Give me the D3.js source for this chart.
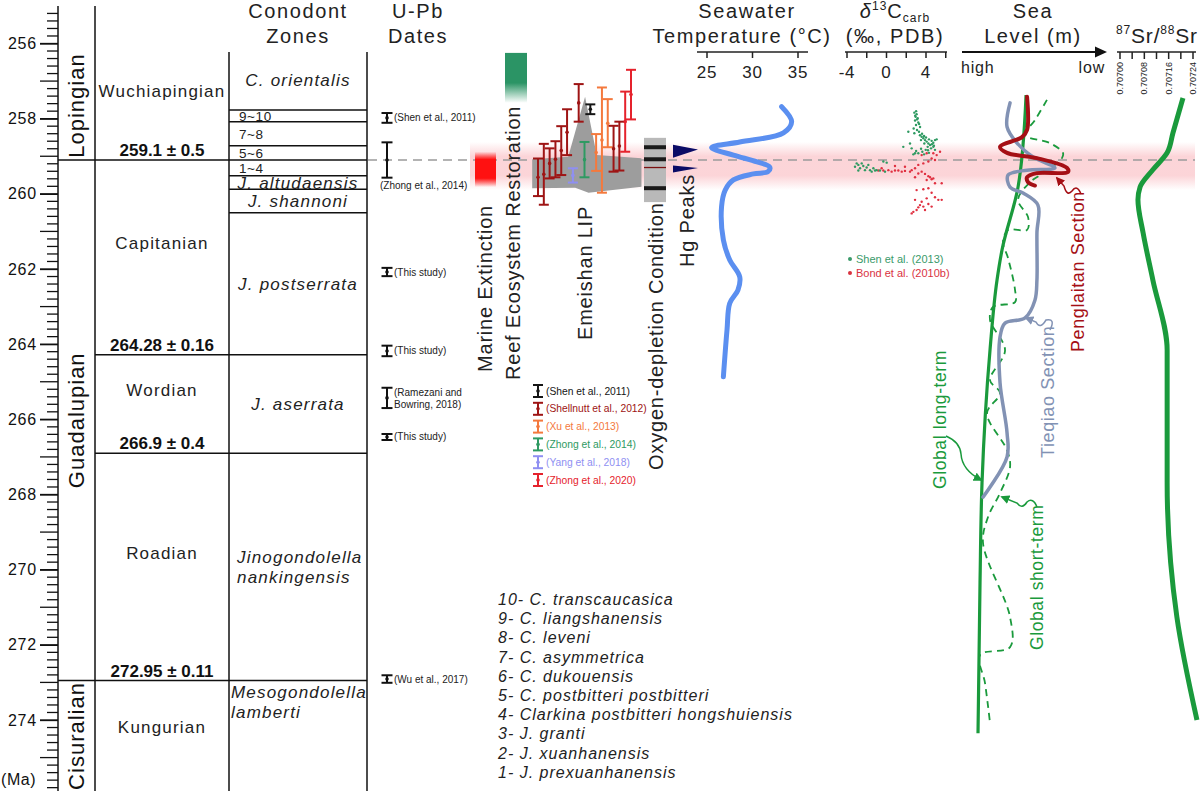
<!DOCTYPE html>
<html>
<head>
<meta charset="utf-8">
<script src="https://cdn.jsdelivr.net/npm/d3@7"></script>
<style>
body { margin: 0; background: #fff; }
svg { display: block; font-family: "Liberation Sans", Arial, sans-serif; }
</style>
</head>
<body>
<div id="chart"></div>
<script>
const width = 1200;
const height = 791;

// chronostratigraphy (Ma)
const seriesNames = ["Lopingian", "Guadalupian", "Cisuralian"];
const seriesBases = [259.1, 272.95, 276.2];
const stageNames = ["Wuchiapingian", "Capitanian", "Wordian", "Roadian", "Kungurian"];
const stageBases = [259.1, 264.28, 266.9, 272.95, 276.2];
const stageBaseLabels = ["259.1 ± 0.5", "264.28 ± 0.16", "266.9 ± 0.4", "272.95 ± 0.11", ""];
const zoneNames = ["C. orientalis", "9~10", "7~8", "5~6", "1~4", "J. altudaensis", "J. shannoni",
    "J. postserrata", "J. aserrata", "Jinogondolella|nankingensis", "Mesogondolella|lamberti"];
const zoneBases = [257.77, 258.08, 258.72, 259.1, 259.52, 259.88, 260.5, 264.28, 266.9, 272.95, 276.2];
const zoneLegend = ["10- C. transcaucasica", "9- C. liangshanensis", "8- C. leveni", "7- C. asymmetrica",
    "6- C. dukouensis", "5- C. postbitteri postbitteri", "4- Clarkina postbitteri hongshuiensis",
    "3- J. granti", "2- J. xuanhanensis", "1- J. prexuanhanensis"];

// U-Pb dates
const upbAges = [257.98, 259.1, 262.08, 264.18, 265.43, 266.47, 272.91];
const upbErrs = [0.13, 0.47, 0.11, 0.14, 0.27, 0.08, 0.1];
const upbRefs = ["(Shen et al., 2011)", "(Zhong et al., 2014)", "(This study)", "(This study)",
    "(Ramezani and|Bowring, 2018)", "(This study)", "(Wu et al., 2017)"];

// events
const extinction = [258.88, 259.82];
const reefRestoration = [256.25, 257.58];
const crisisBand = [258.62, 259.9];
const anoxiaRange = [258.51, 260.22];
const anoxiaBands = [258.76, 259.08, 259.30, 259.85];
const anoxiaBandKind = ["thick", "thick", "thin", "thick"];
const hgPeakAges = [258.87, 259.34];
const hgPeakStrength = [1, 0.55];

// Emeishan LIP ages
const lipSources = ["Shen et al., 2011", "Shellnutt et al., 2012", "Xu et al., 2013",
    "Zhong et al., 2014", "Yang et al., 2018", "Zhong et al., 2020"];
const lipColors = ["#151515", "#9e1414", "#f4793d", "#2e9a62", "#8f8ff2", "#e5222c"];
const lipAges = [259.56, 259.48, 259.19, 259.08, 258.85, 258.36, 259.51, 257.58, 259.09,
    257.75, 258.9, 258.57, 258.12, 258.8, 258.73, 258.08, 257.36];
const lipErrs = [0.50, 0.81, 0.40, 0.48, 0.65, 0.61, 0.19, 0.50, 0.47,
    0.13, 0.49, 1.40, 0.64, 0.61, 0.65, 0.80, 0.66];
const lipSrc = [1, 1, 1, 1, 1, 1, 4, 1, 3, 0, 2, 2, 2, 1, 1, 5, 5];
const lipShapePos = [-1, 5.2, 8.1, 10.1, 17.8, 17.8, 8.7, 6.4, -1];
const lipShapeAge = [259.08, 259.01, 257.42, 258.97, 259.05, 259.81, 259.97, 259.84, 259.85];

// seawater temperature (°C)
const tempAges = [257.68, 258.08, 258.38, 258.62, 258.77, 258.97, 259.15, 259.29, 259.41, 259.47,
    259.63, 259.90, 260.34, 261.23, 261.76, 262.21, 262.56, 262.91, 263.62, 264.87];
const tempVals = [33.2, 34.3, 33.4, 28.6, 25.5, 27.9, 30.5, 31.9, 31.7, 30.1,
    27.9, 27.0, 26.6, 26.8, 27.5, 28.6, 28.4, 27.5, 27.2, 26.8];

// d13C carb (‰)
const shenD13C = [2.82, 3.05, 2.95, 3.16, 2.89, 3.22, 2.99, 2.75, 3.09, 3.29, 2.82, 3.39, 3.56, 3.73, 3.49,
    3.90, 4.07, 3.83, 4.24, 4.41, 4.57, 4.74, 4.91, 5.08, 4.17, 4.51, 4.74, 3.97, 3.63, 3.22, 2.89, 2.72,
    4.91, 4.30, 2.21, 2.38, 2.55, 1.70, 3.0, 2.9, 3.1, 3.3, 3.4, 3.6, 3.8, 4.0, 4.3, 4.6, 4.8, 3.5, 3.0,
    4.2, 3.8, -3.19, -2.85, -2.68, -2.51, -2.35, -2.18, -2.01, -1.84, -1.67, -1.50, -2.85, -1.00, -0.66,
    -0.32, 0.02, -1.33, -1.16, -0.15, -3.02];
const shenAges = [257.84, 257.88, 257.95, 257.99, 258.05, 258.10, 258.17, 258.26, 258.30, 258.35, 258.39,
    258.44, 258.48, 258.52, 258.57, 258.57, 258.61, 258.66, 258.66, 258.70, 258.59, 258.64, 258.57, 258.55,
    258.75, 258.79, 258.75, 258.83, 258.88, 258.92, 258.92, 258.95, 258.83, 258.91, 258.35, 258.66, 258.79,
    258.75, 257.80, 257.92, 258.02, 258.14, 258.22, 258.40, 258.46, 258.50, 258.55, 258.68, 258.72, 258.80,
    258.86, 258.84, 258.95, 259.28, 259.23, 259.32, 259.19, 259.26, 259.37, 259.30, 259.23, 259.37, 259.41,
    259.38, 259.37, 259.38, 259.14, 259.17, 259.32, 259.38, 259.41, 259.19];
const bondD13C = [3.56, 4.07, 4.74, 5.08, 5.42, 4.57, 4.91, 4.24, 3.73, 3.22, 2.89, 2.55, 2.38, 1.87, 1.54,
    1.20, 0.86, 0.52, 0.19, -0.32, -0.83, -0.49, 0.86, 1.87, 3.22, 3.56, 3.90, 4.24, 4.41, 4.57, 4.74, 4.07,
    2.89, 4.91, 5.59, 3.73, 4.24, 4.57, 3.05, 4.91, 5.25, 4.07, 3.56, 3.39, 3.22, 3.05, 2.72, 2.55, 3.73,
    4.24, 4.57, 3.90, 2.89, 5.59];
const bondAges = [258.97, 258.92, 258.92, 258.97, 258.88, 259.06, 259.10, 259.14, 259.19, 259.23, 259.32,
    259.37, 259.41, 259.39, 259.41, 259.38, 259.38, 259.41, 259.37, 259.38, 259.38, 259.32, 259.26, 259.28,
    259.46, 259.41, 259.47, 259.53, 259.56, 259.61, 259.59, 259.63, 259.56, 259.72, 259.72, 259.88, 259.85,
    259.97, 259.90, 260.09, 260.16, 260.12, 260.21, 260.30, 260.36, 260.43, 260.48, 260.52, 260.34, 260.27,
    260.34, 260.43, 260.16, 260.16];

// sea level (0 = high, 100 = low)
const longTermAges = [257.37, 259.82, 261.49, 262.29, 264.15, 267.69, 270.35, 274.35];
const longTermVals = [44.8, 39.2, 28.0, 24.5, 19.6, 14.0, 12.6, 11.2];
const shortTermAges = [257.50, 258.04, 258.43, 258.65, 258.91, 259.05, 259.42, 259.69, 260.16, 260.62,
    260.96, 260.96, 261.28, 261.71, 262.56, 262.88, 263.01, 263.36, 264.16, 264.96, 265.30, 265.84,
    266.82, 267.27, 267.96, 268.60, 269.29, 271.26, 272.06, 272.27, 273.02, 274.08];
const shortTermVals = [59.4, 51.0, 44.1, 61.5, 70.6, 69.9, 58.0, 47.6, 39.2, 46.2, 45.5, 32.2, 28.7, 32.2,
    37.1, 37.1, 21.7, 19.6, 30.1, 19.6, 26.6, 17.5, 31.5, 33.6, 26.6, 18.2, 14.7, 33.6, 33.6, 12.6, 16.1, 19.6];
const tieqiaoAges = [257.58, 258.22, 258.65, 259.02, 259.31, 259.37, 259.50, 259.82, 259.98, 260.30,
    261.04, 262.29, 262.83, 263.30, 263.44, 263.81, 265.03, 266.36, 267.00, 268.07];
const tieqiaoVals = [33.6, 31.5, 38.5, 49.7, 65.0, 45.5, 32.2, 33.6, 42.7, 53.1,
    52.4, 52.4, 51.0, 44.1, 30.1, 26.6, 26.6, 31.5, 31.5, 14.7];
const penglaitanAges = [257.42, 258.30, 258.49, 258.75, 258.91, 259.05, 259.31, 259.42, 259.45, 259.56, 259.69, 259.78];
const penglaitanVals = [45.5, 45.5, 42.0, 26.6, 31.5, 52.4, 73.4, 74.1, 52.4, 45.5, 46.2, 51.0];

// 87Sr/86Sr
const srAges = [257.45, 258.38, 258.91, 259.36, 259.82, 260.16, 261.04, 262.29, 264.16, 267.69, 271.26, 274.0];
const srVals = [0.707207, 0.707174, 0.707155, 0.707108, 0.707066, 0.707059, 0.707076, 0.707108,
    0.707155, 0.707155, 0.707187, 0.707253];

const svg = d3.select("#chart").append("svg")
    .attr("width", width)
    .attr("height", height);

const y = d3.scaleLinear().domain([256, 274]).range([43.5, 720]);
const topAge = 256.2;
const tempX = d3.scaleLinear().domain([25, 35]).range([707, 798]);
const d13X = d3.scaleLinear().domain([-4, 4]).range([847, 926]);
const seaX = d3.scaleLinear().domain([0, 100]).range([962, 1105]);
const srX = d3.scaleLinear().domain([0.707, 0.70724]).range([1120, 1193]);
const lipX = d3.scaleLinear().domain([0, lipAges.length - 1]).range([538, 631]);

const defs = svg.append("defs");
function vGrad(id, color, stops) {
    const g = defs.append("linearGradient").attr("id", id)
        .attr("x1", 0).attr("x2", 0).attr("y1", 0).attr("y2", 1);
    stops.forEach(s => g.append("stop").attr("offset", s[0]).attr("stop-color", color).attr("stop-opacity", s[1]));
}
vGrad("band", "#f25563", [[0, 0], [0.3, 0.25], [0.7, 0.25], [1, 0]]);
vGrad("ext", "#ff1111", [[0, 0], [0.22, 1], [0.75, 1], [1, 0]]);
vGrad("reef", "#2b9465", [[0, 1], [0.6, 1], [1, 0]]);
const marker = (id, color) => defs.append("marker").attr("id", id)
    .attr("viewBox", "0 0 10 10").attr("refX", 8).attr("refY", 5)
    .attr("markerWidth", 6).attr("markerHeight", 6).attr("orient", "auto")
    .append("path").attr("d", "M0,0L10,5L0,10z").attr("fill", color);
marker("arRed", "#a50f15");
marker("arGray", "#8292b4");
marker("arGreen", "#1a9a3c");

// crisis band + boundary line
svg.append("rect")
    .attr("x", 470).attr("width", 725)
    .attr("y", y(crisisBand[0])).attr("height", y(crisisBand[1]) - y(crisisBand[0]))
    .attr("fill", "url(#band)");
svg.append("line")
    .attr("x1", 368).attr("x2", 1195).attr("y1", y(259.1)).attr("y2", y(259.1))
    .attr("stroke", "#9a9a9a").attr("stroke-width", 1.3).attr("stroke-dasharray", "9,6");

// ---- age axis ----
const axisG = svg.append("g").attr("transform", "translate(58,0)");
axisG.append("line").attr("y1", 6).attr("y2", height).attr("stroke", "#111").attr("stroke-width", 1.5);
axisG.selectAll(".minor")
    .data(d3.range(1, 105).map(i => 255 + i * 0.2))
    .enter().append("line")
    .attr("x1", d => Math.abs(d - Math.round(d)) < 0.01 ? -18 : -11).attr("x2", 0)
    .attr("y1", d => y(d)).attr("y2", d => y(d))
    .attr("stroke", "#111").attr("stroke-width", 1.3);
axisG.call(d3.axisLeft(y).tickValues(d3.range(256, 275, 2)).tickSize(18).tickPadding(3))
    .call(g => g.select(".domain").remove())
    .call(g => g.selectAll(".tick line").attr("stroke", "#111").attr("stroke-width", 1.3))
    .call(g => g.selectAll(".tick text").attr("font-size", 16).attr("letter-spacing", 0.8).attr("fill", "#111")
        .attr("font-family", "Liberation Sans, Arial, sans-serif"));
svg.append("text").attr("x", 1).attr("y", 785).attr("font-size", 16).attr("letter-spacing", 0.6)
    .attr("fill", "#111").text("(Ma)");

// ---- stratigraphic columns ----
const colLine = (x, y1) => svg.append("line").attr("x1", x).attr("x2", x).attr("y1", y1).attr("y2", height)
    .attr("stroke", "#111").attr("stroke-width", 1.5);
colLine(95, 6);
colLine(229, 52);
colLine(367, 52);
const hLine = (age, x1) => svg.append("line").attr("x1", x1).attr("x2", 367)
    .attr("y1", y(age)).attr("y2", y(age)).attr("stroke", "#111").attr("stroke-width", 1.5);
seriesBases.slice(0, 2).forEach(a => hLine(a, 58));
stageBases.slice(1, 3).forEach(a => hLine(a, 95));
zoneBases.filter(a => !stageBases.includes(a)).forEach(a => hLine(a, 229));

seriesNames.forEach((n, i) => {
    const t = i === 0 ? topAge : seriesBases[i - 1];
    const cy = (y(t) + y(Math.min(seriesBases[i], 275.9))) / 2;
    svg.append("text").attr("transform", `translate(76.5,${cy}) rotate(-90)`)
        .attr("text-anchor", "middle").attr("dy", "0.35em").attr("letter-spacing", 1)
        .attr("font-size", 22).attr("fill", "#111").text(n);
});

stageNames.forEach((n, i) => {
    const t = i === 0 ? topAge : stageBases[i - 1];
    const b = stageBaseLabels[i] ? stageBases[i] - 0.6 : Math.min(stageBases[i], 275.6);
    svg.append("text").attr("x", 162).attr("y", (y(t) + y(b)) / 2 - 3).attr("dy", "0.35em")
        .attr("text-anchor", "middle").attr("font-size", 17).attr("letter-spacing", 1.2)
        .attr("fill", "#222").text(n);
    if (stageBaseLabels[i]) {
        svg.append("text").attr("x", 162).attr("y", y(stageBases[i]) - 4)
            .attr("text-anchor", "middle").attr("font-size", 17).attr("font-weight", "bold")
            .attr("fill", "#111").text(stageBaseLabels[i]);
    }
});

zoneNames.forEach((n, i) => {
    const t = i === 0 ? topAge : zoneBases[i - 1];
    const b = Math.min(zoneBases[i], 275.6);
    const cy = (y(t) + y(b)) / 2;
    if (n.includes("~")) {
        svg.append("text").attr("x", 239).attr("y", cy).attr("dy", "0.36em")
            .attr("font-size", 13.5).attr("letter-spacing", 0.6).attr("fill", "#222").text(n);
    } else if (n.includes("|")) {
        const parts = n.split("|");
        const last = i === zoneNames.length - 1;
        const y0 = last ? y(t) + 17 : cy - 4;
        parts.forEach((p, k) => svg.append("text").attr("x", last ? 231 : 237).attr("y", y0 + k * 20)
            .attr("font-size", 17).attr("letter-spacing", 1.2).attr("font-style", "italic")
            .attr("fill", "#222").text(p));
    } else {
        svg.append("text").attr("x", 298).attr("y", cy).attr("dy", "0.35em")
            .attr("text-anchor", "middle").attr("font-size", 17).attr("letter-spacing", 1.2)
            .attr("font-style", "italic").attr("fill", "#222").text(n);
    }
});

// column headers
const header = (x, lines) => lines.forEach((l, k) => svg.append("text")
    .attr("x", x).attr("y", 18 + k * 25).attr("text-anchor", "middle")
    .attr("font-size", 20).attr("letter-spacing", 1.6).attr("fill", "#222").text(l));
header(298, ["Conodont", "Zones"]);
header(418, ["U-Pb", "Dates"]);

// ---- U-Pb dates ----
const errBar = (g, cx, a, e, color, cap) => {
    g.append("line").attr("x1", cx).attr("x2", cx).attr("y1", y(a - e)).attr("y2", y(a + e))
        .attr("stroke", color).attr("stroke-width", 2);
    [a - e, a + e].forEach(v => g.append("line").attr("x1", cx - cap).attr("x2", cx + cap)
        .attr("y1", y(v)).attr("y2", y(v)).attr("stroke", color).attr("stroke-width", 2));
    g.append("circle").attr("cx", cx).attr("cy", y(a)).attr("r", 1.8).attr("fill", color);
};
const upbG = svg.append("g");
upbAges.forEach((a, i) => {
    errBar(upbG, 387, a, upbErrs[i], "#111", 5.5);
    const parts = upbRefs[i].split("|");
    if (upbRefs[i].startsWith("(Zhong")) {
        upbG.append("text").attr("x", 380).attr("y", y(a + upbErrs[i]) + 11)
            .attr("font-size", 10).attr("fill", "#222").text(parts[0]);
    } else {
        parts.forEach((p, k) => upbG.append("text").attr("x", 394)
            .attr("y", y(a) + (parts.length > 1 ? -5 + k * 12 : 0)).attr("dy", "0.35em")
            .attr("font-size", 10).attr("fill", "#222").text(p));
    }
});

// ---- event columns ----
svg.append("rect").attr("x", 475).attr("width", 21)
    .attr("y", y(extinction[0])).attr("height", y(extinction[1]) - y(extinction[0]))
    .attr("fill", "url(#ext)");
svg.append("rect").attr("x", 505).attr("width", 22)
    .attr("y", y(reefRestoration[0])).attr("height", y(reefRestoration[1]) - y(reefRestoration[0]))
    .attr("fill", "url(#reef)");

// Emeishan LIP
svg.append("path")
    .attr("d", d3.line().x((d, i) => lipX(lipShapePos[i])).y(d => y(d))(lipShapeAge) + "Z")
    .attr("fill", "#9d9d9d");
const lipG = svg.append("g");
lipAges.forEach((a, i) => errBar(lipG, lipX(i), a, lipErrs[i], lipColors[lipSrc[i]], 5));
lipSources.forEach((s, i) => {
    const cy = 391 + i * 17.8;
    const c = lipColors[i];
    lipG.append("line").attr("x1", 538).attr("x2", 538).attr("y1", cy - 6).attr("y2", cy + 6)
        .attr("stroke", c).attr("stroke-width", 2);
    [cy - 6, cy + 6].forEach(v => lipG.append("line").attr("x1", 533).attr("x2", 543)
        .attr("y1", v).attr("y2", v).attr("stroke", c).attr("stroke-width", 2));
    lipG.append("circle").attr("cx", 538).attr("cy", cy).attr("r", 1.8).attr("fill", c);
    lipG.append("text").attr("x", 546).attr("y", cy).attr("dy", "0.35em")
        .attr("font-size", 10.3).attr("fill", c).text(`(${s})`);
});

// oxygen depletion
svg.append("rect").attr("x", 644).attr("width", 22)
    .attr("y", y(anoxiaRange[0])).attr("height", y(anoxiaRange[1]) - y(anoxiaRange[0]))
    .attr("fill", "#b9b9b9");
anoxiaBands.forEach((a, i) => svg.append("line").attr("x1", 644).attr("x2", 666)
    .attr("y1", y(a)).attr("y2", y(a))
    .attr("stroke", anoxiaBandKind[i] === "thin" ? "#7a1010" : "#1a1a1a")
    .attr("stroke-width", anoxiaBandKind[i] === "thin" ? 1.3 : 4));

// Hg peaks
hgPeakAges.forEach((a, i) => {
    const h = 6.5 * hgPeakStrength[i];
    const c = y(a);
    svg.append("path").attr("d", `M673,${c - h}L698,${c - h * 0.3}L673,${c + h}Z`).attr("fill", "#0b0b66");
});

const vtext = (x, yb, txt, size, color, ls) => svg.append("text")
    .attr("transform", `translate(${x},${yb}) rotate(-90)`).attr("dy", "0.35em")
    .attr("letter-spacing", ls || 0)
    .attr("font-size", size).attr("fill", color || "#222").text(txt);
vtext(485, 372, "Marine Extinction", 20, "#222", 0.8);
vtext(513, 380, "Reef Ecosystem Restoration", 20, "#222", 0.8);
vtext(585, 340, "Emeishan LIP", 20, "#222", 0.8);
vtext(656, 470, "Oxygen-depletion Condition", 20, "#222", 0.8);
vtext(687, 267, "Hg Peaks", 20, "#222", 0.8);

// ---- seawater temperature ----
header(747, ["Seawater"]);
svg.append("text").attr("x", 742).attr("y", 43).attr("text-anchor", "middle")
    .attr("font-size", 20).attr("letter-spacing", 1.6).attr("fill", "#222").text("Temperature (°C)");
const smallAxis = (scale, x0, x1, ticks, labels) => {
    const g = svg.append("g");
    g.append("line").attr("x1", x0).attr("x2", x1).attr("y1", 52).attr("y2", 52)
        .attr("stroke", "#222").attr("stroke-width", 1.5);
    ticks.forEach(t => g.append("line").attr("x1", scale(t)).attr("x2", scale(t))
        .attr("y1", 52).attr("y2", 58).attr("stroke", "#222").attr("stroke-width", 1.5));
    labels.forEach(t => g.append("text").attr("x", scale(t)).attr("y", 78).attr("text-anchor", "middle")
        .attr("font-size", 17).attr("letter-spacing", 0.8).attr("fill", "#222").text(t));
};
smallAxis(tempX, 697, 808, [25, 30, 35], [25, 30, 35]);
svg.append("path")
    .attr("d", d3.line().x((d, i) => tempX(tempVals[i])).y(d => y(d)).curve(d3.curveCatmullRom.alpha(0.5))(tempAges))
    .attr("fill", "none").attr("stroke", "#5b8ff0").attr("stroke-width", 5).attr("stroke-linecap", "round");

// ---- d13C ----
const d13Title = svg.append("text").attr("x", 895).attr("y", 18).attr("text-anchor", "middle")
    .attr("font-size", 20).attr("letter-spacing", 1).attr("fill", "#222");
d13Title.append("tspan").attr("font-style", "italic").text("δ");
d13Title.append("tspan").attr("font-size", 12).attr("dy", -8).text("13");
d13Title.append("tspan").attr("dy", 8).text("C");
d13Title.append("tspan").attr("font-size", 12).attr("dy", 4).text("carb");
svg.append("text").attr("x", 895).attr("y", 43).attr("text-anchor", "middle")
    .attr("font-size", 20).attr("letter-spacing", 1.6).attr("fill", "#222").text("(‰, PDB)");
smallAxis(d13X, 845, 947, [-4, -2, 0, 2, 4, 6], [-4, 0, 4]);
svg.append("g").selectAll("circle").data(bondAges).enter().append("circle")
    .attr("cx", (d, i) => d13X(bondD13C[i])).attr("cy", d => y(d)).attr("r", 1.2).attr("fill", "#e03040");
svg.append("g").selectAll("circle").data(shenAges).enter().append("circle")
    .attr("cx", (d, i) => d13X(shenD13C[i])).attr("cy", d => y(d)).attr("r", 1.2).attr("fill", "#2f9a62");
[["Shen et al. (2013)", "#3a9a6a"], ["Bond et al. (2010b)", "#d9323f"]].forEach((l, i) => {
    svg.append("circle").attr("cx", 850).attr("cy", 259 + i * 14).attr("r", 2).attr("fill", l[1]);
    svg.append("text").attr("x", 856).attr("y", 259 + i * 14).attr("dy", "0.35em")
        .attr("font-size", 11).attr("fill", l[1]).text(l[0]);
});

// ---- sea level ----
header(1033, ["Sea", "Level (m)"]);
svg.append("line").attr("x1", 962).attr("x2", 1097).attr("y1", 52).attr("y2", 52)
    .attr("stroke", "#111").attr("stroke-width", 2);
svg.append("path").attr("d", "M1095,46.5L1107,52L1095,57.5Z").attr("fill", "#111");
svg.append("text").attr("x", 961).attr("y", 73).attr("font-size", 16).attr("letter-spacing", 0.8)
    .attr("fill", "#222").text("high");
svg.append("text").attr("x", 1105).attr("y", 73).attr("text-anchor", "end")
    .attr("font-size", 16).attr("letter-spacing", 0.8).attr("fill", "#222").text("low");

const seaLine = (ages, vals, curve) => d3.line().x((d, i) => seaX(vals[i])).y(d => y(d)).curve(curve)(ages);
svg.append("path").attr("d", seaLine(shortTermAges, shortTermVals, d3.curveCatmullRom.alpha(0.5)))
    .attr("fill", "none").attr("stroke", "#1a9a3c").attr("stroke-width", 1.8).attr("stroke-dasharray", "7,5");
svg.append("path").attr("d", seaLine(longTermAges, longTermVals, d3.curveMonotoneY))
    .attr("fill", "none").attr("stroke", "#1a9a3c").attr("stroke-width", 3.2);
svg.append("path").attr("d", seaLine(tieqiaoAges, tieqiaoVals, d3.curveCatmullRom.alpha(0.5)))
    .attr("fill", "none").attr("stroke", "#8292b4").attr("stroke-width", 3.5).attr("stroke-linecap", "round");
svg.append("path").attr("d", seaLine(penglaitanAges, penglaitanVals, d3.curveCatmullRom.alpha(0.5)))
    .attr("fill", "none").attr("stroke", "#a50f15").attr("stroke-width", 4).attr("stroke-linecap", "round");

vtext(1078, 352, "Penglaitan Section", 18, "#a50f15", 0.6);
vtext(1048, 458, "Tieqiao Section", 18, "#8292b4", 0.6);
vtext(940, 489, "Global long-term", 17.5, "#1a9a3c", 0.6);
vtext(1037, 650, "Global short-term", 17.5, "#1a9a3c", 0.6);
const arrow = (d, color, id) => svg.append("path").attr("d", d).attr("fill", "none")
    .attr("stroke", color).attr("stroke-width", 1.5).attr("marker-end", `url(#${id})`);
arrow("M1081,194Q1077,184 1072,191Q1067,197 1064,186L1057,178", "#a50f15", "arRed");
arrow("M1050,330Q1056,318 1046,320Q1040,330 1036,322L1026,318", "#8292b4", "arGray");
arrow("M946,436Q960,442 961,454Q962,470 981,480", "#1a9a3c", "arGreen");
arrow("M1037,507Q1033,497 1027,502Q1022,510 1017,503L1002,497", "#1a9a3c", "arGreen");

// ---- Sr isotopes ----
const srTitle = svg.append("text").attr("x", 1157).attr("y", 43).attr("text-anchor", "middle")
    .attr("font-size", 21).attr("letter-spacing", 0.8).attr("fill", "#222");
srTitle.append("tspan").attr("font-size", 12).attr("dy", -9).text("87");
srTitle.append("tspan").attr("dy", 9).text("Sr/");
srTitle.append("tspan").attr("font-size", 12).attr("dy", -9).text("88");
srTitle.append("tspan").attr("dy", 9).text("Sr");
const srG = svg.append("g");
srG.append("line").attr("x1", 1117).attr("x2", 1196).attr("y1", 52).attr("y2", 52)
    .attr("stroke", "#222").attr("stroke-width", 1.5);
d3.range(0, 7).map(i => 0.707 + i * 0.00004).forEach((t, i) => {
    srG.append("line").attr("x1", srX(t)).attr("x2", srX(t)).attr("y1", 52).attr("y2", 59)
        .attr("stroke", "#222").attr("stroke-width", 1.5);
    if (i % 2 === 0) {
        srG.append("text").attr("transform", `translate(${srX(t)},62) rotate(-90)`)
            .attr("text-anchor", "end").attr("dy", "0.35em")
            .attr("font-size", 9).attr("fill", "#222").text(t.toFixed(5));
    }
});
svg.append("path")
    .attr("d", d3.line().x((d, i) => srX(srVals[i])).y(d => y(d)).curve(d3.curveMonotoneY)(srAges))
    .attr("fill", "none").attr("stroke", "#1a9a3c").attr("stroke-width", 5);

// conodont number key
zoneLegend.forEach((t, i) => svg.append("text").attr("x", 498).attr("y", 605 + i * 19.2)
    .attr("font-size", 16).attr("font-style", "italic").attr("letter-spacing", 1)
    .attr("fill", "#222").text(t));
</script>
</body>
</html>
